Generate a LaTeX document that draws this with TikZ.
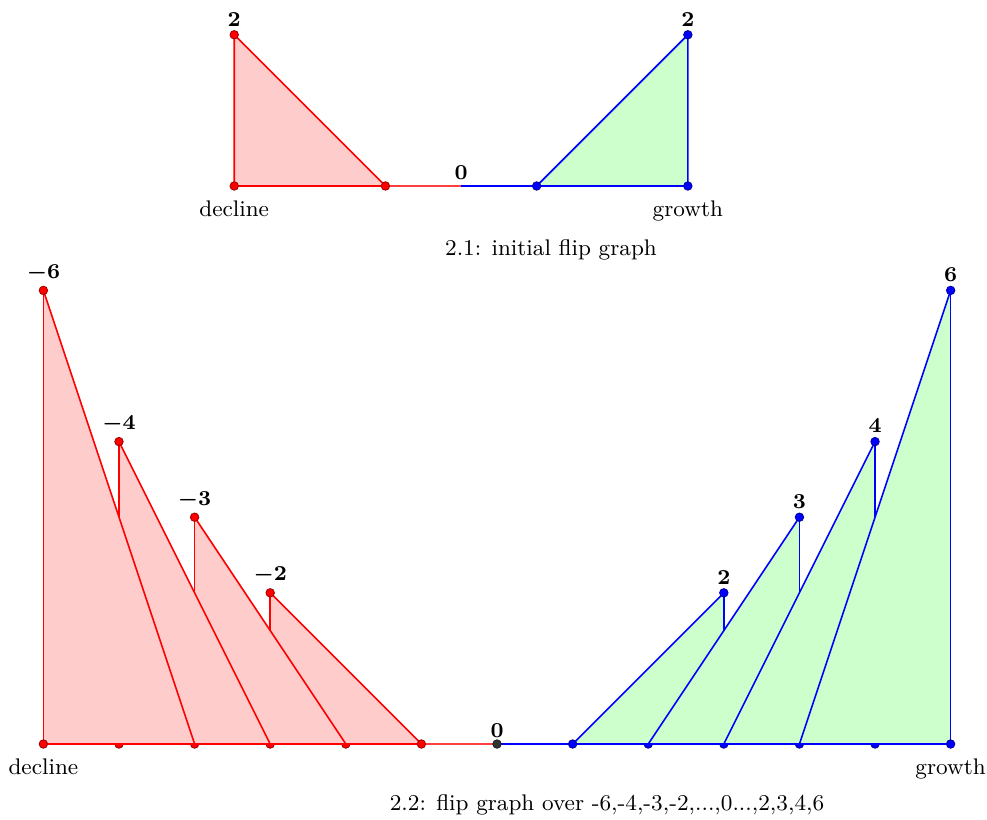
\documentclass[tikz,border=0pt]{standalone}
\usetikzlibrary{positioning,calc}
\definecolor{cDEC}{HTML}{FF0000}
\definecolor{cDECf}{HTML}{FFCCCC}
\definecolor{cGRO}{HTML}{0000FF}
\definecolor{cGROf}{HTML}{CCFFCC}
\definecolor{cZER}{HTML}{333333}
\tikzset{
  dot/.style={circle, inner sep=0pt, minimum size=3.2pt, fill=#1, draw=#1!60!black, line width=0.3pt},
  val/.style={font=\fontsize{8.5}{10}\selectfont\boldmath, inner sep=1pt},
  tag/.style={font=\fontsize{8.5}{10}\selectfont}
}
\begin{document}
\begin{tikzpicture}[line width=0.6pt]
\useasboundingbox (-6.574,-0.992) rectangle (6.481,9.841);

% 2.1: initial flip graph
\begin{scope}[shift={(-0.476,7.381)}]
  \coordinate (a0) at (0,0);
  \coordinate (aL) at (-3,0); \coordinate (aLt) at (-3,2); \coordinate (aLr) at (-1,0);
  \coordinate (aR) at (3,0);  \coordinate (aRt) at (3,2);  \coordinate (aRl) at (1,0);
  \fill[cDECf] (aL) -- (aLt) -- (aLr) -- cycle;
  \fill[cGROf] (aRl) -- (aRt) -- (aR) -- cycle;
  \draw[cDEC] (aLr) -- (aL) -- (aLt) -- (aLr);
  \draw[cDEC!75] (aLr) -- (a0);
  \draw[cGRO] (a0) -- (aR) -- (aRt) -- (aRl);
  \foreach \p in {aL,aLt,aLr} \node[dot=cDEC] at (\p) {};
  \foreach \p in {aR,aRt,aRl} \node[dot=cGRO] at (\p) {};
  \node[val, above=2pt of aLt] (aLv) {$2$};
  \node[val, above=2pt of aRt] (aRv) {$2$};
  \node[val, above=1pt of a0] (a0v) {$0$};
  \node[tag, below=2pt of aL] (aLn) {decline};
  \node[tag, below=2pt of aR] (aRn) {growth};
\end{scope}
\node[tag] (cap1) at (0.714,6.534) {2.1: initial flip graph};

% 2.2: flip graph over the full range
\coordinate (b0) at (0,0);
\coordinate (bL) at (-6,0);
\coordinate (bR) at (6,0);
% hidden baseline dots
\foreach \x in {-5,-4,-3,-2} \node[dot=cDEC] at (\x,0) {};
\foreach \x in {2,3,4,5} \node[dot=cGRO] at (\x,0) {};
% fills
\foreach \x/\h in {-6/6,-5/4,-4/3,-3/2}
  \fill[cDECf] (\x,0) -- (\x,\h) -- (\x+2,0) -- cycle;
\foreach \x/\h in {3/2,4/3,5/4,6/6}
  \fill[cGROf] (\x-2,0) -- (\x,\h) -- (\x,0) -- cycle;
% decline side
\foreach \x/\h/\b/\v [count=\i] in {-6/6/0/-6,-5/4/3/-4,-4/3/2/-3,-3/2/1.5/-2} {
  \coordinate (rt\i) at (\x,\h);
  \coordinate (rb\i) at (\x,\b);
  \coordinate (rf\i) at (\x+2,0);
  \draw[cDEC] (rt\i) -- (rb\i);
  \draw[cDEC] (rt\i) -- (rf\i);
  \node[val, above=2pt of rt\i] (rv\i) {$\v$};
}
% growth side
\foreach \x/\h/\b/\v [count=\i] in {3/2/1.5/2,4/3/2/3,5/4/3/4,6/6/0/6} {
  \coordinate (gt\i) at (\x,\h);
  \coordinate (gb\i) at (\x,\b);
  \coordinate (gf\i) at (\x-2,0);
  \draw[cGRO] (gt\i) -- (gb\i);
  \draw[cGRO] (gt\i) -- (gf\i);
  \node[val, above=2pt of gt\i] (gv\i) {$\v$};
}
\draw[cDEC] (bL) -- (rf4);
\draw[cDEC!75] (rf4) -- (b0);
\draw[cGRO] (b0) -- (bR);
\foreach \i in {1,...,4} {
  \node[dot=cDEC] at (rt\i) {};
  \node[dot=cGRO] at (gt\i) {};
}
\node[dot=cDEC] at (bL) {};
\node[dot=cDEC] at (rf4) {};
\node[dot=cGRO] at (gf1) {};
\node[dot=cGRO] at (bR) {};
\node[dot=cZER] at (b0) {};
\node[val, above=1pt of b0] (b0v) {$0$};
\node[tag, below=2pt of bL] (bLn) {decline};
\node[tag, below=2pt of bR] (bRn) {growth};
\node[tag] (cap2) at (1.455,-0.807) {2.2: flip graph over -6,-4,-3,-2,...,0...,2,3,4,6};
\end{tikzpicture}
\end{document}
